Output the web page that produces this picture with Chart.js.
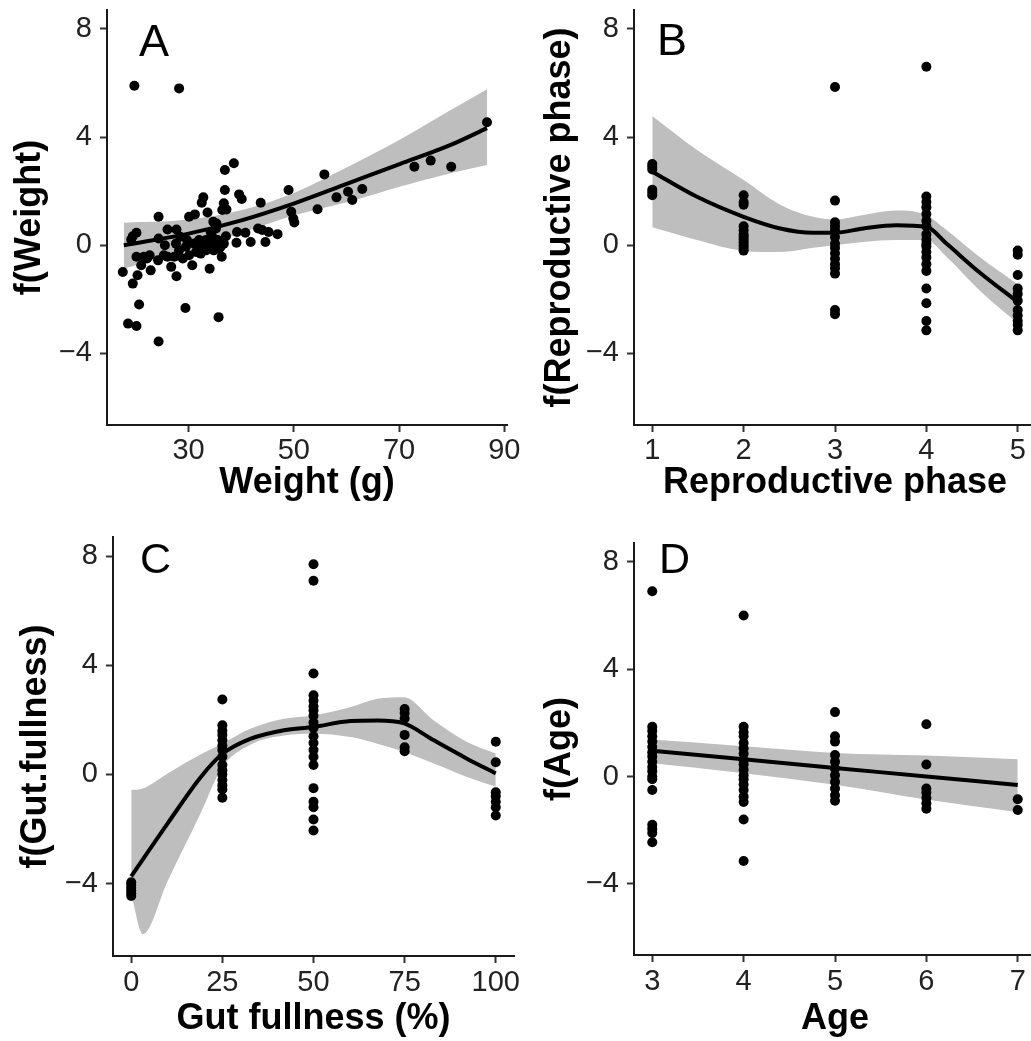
<!DOCTYPE html>
<html><head><meta charset="utf-8">
<script src="https://cdn.jsdelivr.net/npm/chart.js@4/dist/chart.umd.min.js"></script>
<style>
html,body{margin:0;padding:0;background:#fff;overflow:hidden;width:1031px;height:1041px}
#wrap{position:relative;width:1031px;height:1041px;overflow:hidden;background:#fff}
canvas{position:absolute}
</style></head><body><div id="wrap">
<canvas id="cA" width="540" height="520" style="left:0;top:0"></canvas>
<canvas id="cB" width="560" height="520" style="left:520px;top:0"></canvas>
<canvas id="cC" width="540" height="521" style="left:0;top:520px"></canvas>
<canvas id="cD" width="560" height="521" style="left:520px;top:520px"></canvas>
</div>
<script>
// ---------- shared ----------
const yTicks = [-4, 0, 4, 8];

// ---------- Panel A: Weight ----------
const weightTicks = [30, 50, 70, 90];
const weightX = [19.7,28.2,86.7,72.9,76.0,79.9,55.8,49.0,58.1,60.3,61.1,63.0,54.5,49.5,49.9,50.1,43.7,38.6,36.9,36.9,39.6,40.1,32.8,32.5,36.7,36.4,37.2,33.6,30.1,31.2,24.3,34.7,26.0,27.7,20.1,19.4,19.1,24.3,35.2,39.2,40.8,43.2,44.0,45.2,46.9,41.8,44.6,39.1,37.1,27.6,28.2,27.3,28.9,30.1,31.1,32.0,32.6,33.3,33.9,34.5,35.5,36.1,36.7,31.4,32.3,33.3,34.8,35.8,36.3,30.7,26.7,27.7,25.3,24.2,22.6,22.1,21.0,22.8,20.1,17.5,20.3,19.4,20.6,29.4,18.5,20.1,24.3,35.7,34.0,26.0,21.5,29.5,29.7,25.5,35.2,28.4,34.2,35.3];
const weightY = [5.9,5.8,4.55,2.9,3.13,2.9,2.62,2.04,1.77,1.98,1.67,2.08,1.33,1.24,0.99,0.84,1.57,3.03,2.78,2.04,1.88,1.71,1.77,1.57,1.55,1.30,1.32,1.21,1.05,1.14,1.05,0.87,0.58,0.58,0.46,0.33,0.21,0.25,0.62,0.49,0.46,0.62,0.56,0.49,0.41,0.12,0.12,0.09,0.33,0.06,-0.19,-0.43,-0.49,-0.37,0.06,0.19,-0.06,0.19,0.06,0.31,0.19,-0.06,0.06,-0.25,-0.31,-0.19,-0.19,-0.12,-0.43,-0.74,-0.80,-1.15,-0.37,-0.56,-0.37,-0.49,-0.74,-0.93,-0.43,-0.99,-1.11,-1.42,-2.19,-2.32,-2.90,-2.99,-3.56,-2.66,-0.87,-0.43,-0.43,-0.06,0.19,0.0,0.06,0.31,0.49,0.80];
const weightFitX = [17.7,30.0,40.2,50.1,60.3,70.1,79.8,86.7];
const weightFit  = [0.0,0.43,0.93,1.55,2.29,3.0,3.71,4.33];
const weightUpper= [0.83,0.95,1.3,1.94,2.9,3.9,5.0,5.77];
const weightLower= [-0.87,-0.19,0.46,1.11,1.6,2.16,2.66,2.97];

// ---------- Panel B: Reproductive phase ----------
const phaseTicks = [1, 2, 3, 4, 5];
const phase1 = [3.0,2.9,2.8,2.05,1.95,1.85];
const phase2 = [1.85,1.6,1.5,0.7,0.55,0.4,0.3,0.2,0.1,0.0,-0.1,-0.2];
const phase3 = [5.85,1.65,0.85,0.7,0.55,0.3,0.05,-0.1,-0.3,-0.5,-0.7,-0.85,-1.05,-2.4,-2.55];
const phase4 = [6.6,1.8,1.6,1.4,1.15,0.9,0.7,0.4,0.2,0.05,-0.05,-0.25,-0.45,-0.7,-0.95,-1.6,-2.15,-2.8,-3.15];
const phase5 = [-0.2,-0.35,-1.1,-1.6,-1.8,-2.05,-2.4,-2.6,-2.8,-2.95,-3.15];
const phaseFitX = [1,1.49,2,2.4,2.76,3,3.31,3.67,4,4.22,4.58,5];
const phaseFit  = [2.72,1.79,1.05,0.62,0.46,0.46,0.62,0.74,0.68,0.06,-1.0,-2.1];
const phaseUpper= [4.78,3.52,2.41,1.5,1.05,0.95,1.12,1.28,1.11,0.56,-0.43,-1.45];
const phaseLower= [0.66,0.19,-0.21,-0.25,-0.09,0.0,0.12,0.19,0.19,-0.43,-1.67,-2.9];

// ---------- Panel C: Gut fullness ----------
const gutTicks = [0, 25, 50, 75, 100];
const gut0   = [-3.95,-4.05,-4.15,-4.25,-4.35,-4.45];
const gut25  = [2.75,1.8,1.6,1.45,1.25,1.05,0.9,0.65,0.35,0.15,0.0,-0.2,-0.4,-0.55,-0.85];
const gut50  = [7.7,7.1,3.7,2.9,2.7,2.5,2.35,2.15,1.9,1.7,1.4,1.15,0.9,0.65,0.35,-0.5,-1.0,-1.2,-1.65,-2.05];
const gut75  = [2.4,2.25,2.05,1.45,1.0,0.85];
const gut100 = [1.2,0.45,-0.65,-0.8,-1.0,-1.2,-1.5];
const gutFitX = [0,10,19.1,24.9,32.8,41.9,49.9,60.2,67.5,74.7,83,92.1,100];
const gutFit  = [-3.73,-1.79,-0.09,0.74,1.31,1.62,1.74,1.96,1.98,1.88,1.25,0.58,0.04];
const gutBandX  = [0,3.2,10,19.1,24.9,32.8,41.9,49.9,60.2,67.5,74.7,83,92.1,100];
const gutUpper  = [-0.57,-0.51,0.04,0.74,1.13,1.68,2.04,2.16,2.47,2.77,2.83,1.98,1.19,0.77];
const gutLower  = [-4.4,-5.85,-3.9,-1.4,0.25,1.1,1.43,1.49,1.37,1.13,0.83,0.4,-0.09,-0.45];

// ---------- Panel D: Age ----------
const ageTicks = [3, 4, 5, 6, 7];
const age3 = [6.9,1.85,1.7,1.5,1.3,1.1,0.9,0.75,0.55,0.35,0.2,0.0,-0.1,-0.5,-1.8,-1.95,-2.1,-2.45];
const age4 = [6.0,1.85,1.65,1.5,1.25,1.05,0.85,0.6,0.45,0.25,0.05,-0.1,-0.3,-0.5,-0.75,-0.95,-1.6,-3.15];
const age5 = [2.4,1.5,1.3,0.8,0.55,0.3,0.05,-0.2,-0.45,-0.7,-0.9];
const age6 = [1.95,0.45,-0.45,-0.6,-0.8,-1.0,-1.2];
const age7 = [-0.85,-1.25];
const ageFitX = [3,4,5,6,7];
const ageFit  = [0.96,0.64,0.32,0.0,-0.32];
const ageUpper= [1.38,1.13,0.88,0.78,0.64];
const ageLower= [0.49,0.12,-0.31,-0.86,-1.33];

// ---------- helpers ----------
const FONT = '"Liberation Sans", Arial, Helvetica, sans-serif';
const xy = (xs, ys) => xs.map((x, i) => ({x: x, y: ys[i]}));
const groups = (xs, lists) => lists.flatMap((l, i) => l.map(v => ({x: xs[i], y: v})));
const fmt = v => (v < 0 ? '\u2212' + Math.abs(v) : String(v));

const letterPlugin = {
  id: 'letter',
  afterDraw(chart, args, o) {
    const ctx = chart.ctx;
    ctx.save();
    ctx.font = o.size + 'px ' + FONT;
    ctx.fillStyle = '#000';
    ctx.textBaseline = 'alphabetic';
    ctx.textAlign = 'left';
    ctx.fillText(o.text, o.x, o.y);
    ctx.restore();
  }
};

function panel(id, p) {
  const bandX = p.bandX || p.fitX;
  new Chart(document.getElementById(id), {
    type: 'scatter',
    data: {
      datasets: [
        {data: xy(bandX, p.upper), showLine: true, borderWidth: 1, borderColor: 'rgba(0,0,0,0)', pointRadius: 0, fill: '+1', backgroundColor: '#bebebe', cubicInterpolationMode: 'monotone', order: 3},
        {data: xy(bandX, p.lower), showLine: true, borderWidth: 1, borderColor: 'rgba(0,0,0,0)', pointRadius: 0, fill: false, cubicInterpolationMode: 'monotone', order: 3},
        {data: p.points, showLine: false, pointRadius: 5, pointBackgroundColor: '#000', pointBorderWidth: 0, pointBorderColor: '#000', order: 2},
        {data: xy(p.fitX, p.fit), showLine: true, borderColor: '#000', borderWidth: 4, pointRadius: 0, fill: false, cubicInterpolationMode: 'monotone', order: 1}
      ]
    },
    options: {
      responsive: false, animation: false, devicePixelRatio: 1,
      layout: {padding: {left: 0, top: p.padTop, right: p.padRight, bottom: 0}},
      plugins: {legend: {display: false}, tooltip: {enabled: false}, letter: p.letter},
      scales: {
        x: {
          type: 'linear', min: p.xmin, max: p.xmax,
          afterBuildTicks: s => { s.ticks = p.xticks.map(v => ({value: v})); },
          afterFit: s => { s.height = p.xh; s.paddingLeft = 0; s.paddingRight = 0; s.paddingTop = 0; s.paddingBottom = 0; },
          grid: {display: true, drawOnChartArea: false, drawTicks: true, tickLength: 7, tickColor: '#333', tickWidth: 2},
          border: {display: true, color: '#1a1a1a', width: 2},
          ticks: {autoSkip: false, maxRotation: 0, padding: p.xtp, color: '#222', font: {family: FONT, size: 29}, callback: fmt},
          title: {display: true, text: p.xtitle, color: '#000', font: {family: FONT, size: 36, weight: 'bold'}, padding: {top: 0, bottom: p.xtb}}
        },
        y: {
          type: 'linear', min: -6.65, max: 8.7,
          afterBuildTicks: s => { s.ticks = yTicks.map(v => ({value: v})); },
          afterFit: s => { s.width = p.yw; s.paddingLeft = 0; s.paddingRight = 0; s.paddingTop = 0; s.paddingBottom = 0; },
          grid: {display: true, drawOnChartArea: false, drawTicks: true, tickLength: 7, tickColor: '#333', tickWidth: 2},
          border: {display: true, color: '#1a1a1a', width: 2},
          ticks: {autoSkip: false, padding: 8, color: '#222', font: {family: FONT, size: 29}, callback: fmt},
          title: {display: true, text: p.ytitle, color: '#000', font: {family: FONT, size: 36, weight: 'bold'}, padding: {top: p.ytp, bottom: 0}}
        }
      }
    },
    plugins: [letterPlugin]
  });
}

panel('cA', {
  points: xy(weightX, weightY), fitX: weightFitX, fit: weightFit, upper: weightUpper, lower: weightLower,
  xmin: 14.5, xmax: 90.5, xticks: weightTicks, xtitle: 'Weight (g)', ytitle: 'f(Weight)',
  padTop: 10, padRight: 33, xh: 95, yw: 107, xtp: 2, xtb: 15, ytp: 8,
  letter: {text: 'A', x: 139, y: 56, size: 45}
});
panel('cB', {
  points: groups(phaseTicks, [phase1, phase2, phase3, phase4, phase5]), fitX: phaseFitX, fit: phaseFit, upper: phaseUpper, lower: phaseLower,
  xmin: 0.8, xmax: 5.2, xticks: phaseTicks, xtitle: 'Reproductive phase', ytitle: 'f(Reproductive phase)',
  padTop: 10, padRight: 44, xh: 95, yw: 114, xtp: 2, xtb: 15, ytp: 18,
  letter: {text: 'B', x: 137, y: 55, size: 45}
});
panel('cC', {
  points: groups(gutTicks, [gut0, gut25, gut50, gut75, gut100]), fitX: gutFitX, fit: gutFit, bandX: gutBandX, upper: gutUpper, lower: gutLower,
  xmin: -5, xmax: 105, xticks: gutTicks, xtitle: 'Gut fullness (%)', ytitle: 'f(Gut.fullness)',
  padTop: 17, padRight: 26, xh: 85, yw: 113, xtp: 3, xtb: 0, ytp: 14,
  letter: {text: 'C', x: 140, y: 53, size: 43}
});
panel('cD', {
  points: groups(ageTicks, [age3, age4, age5, age6, age7]), fitX: ageFitX, fit: ageFit, upper: ageUpper, lower: ageLower,
  xmin: 2.8, xmax: 7.2, xticks: ageTicks, xtitle: 'Age', ytitle: 'f(Age)',
  padTop: 23, padRight: 44, xh: 86, yw: 114, xtp: 3, xtb: 0, ytp: 18,
  letter: {text: 'D', x: 139, y: 53, size: 43}
});
</script>
</body></html>
